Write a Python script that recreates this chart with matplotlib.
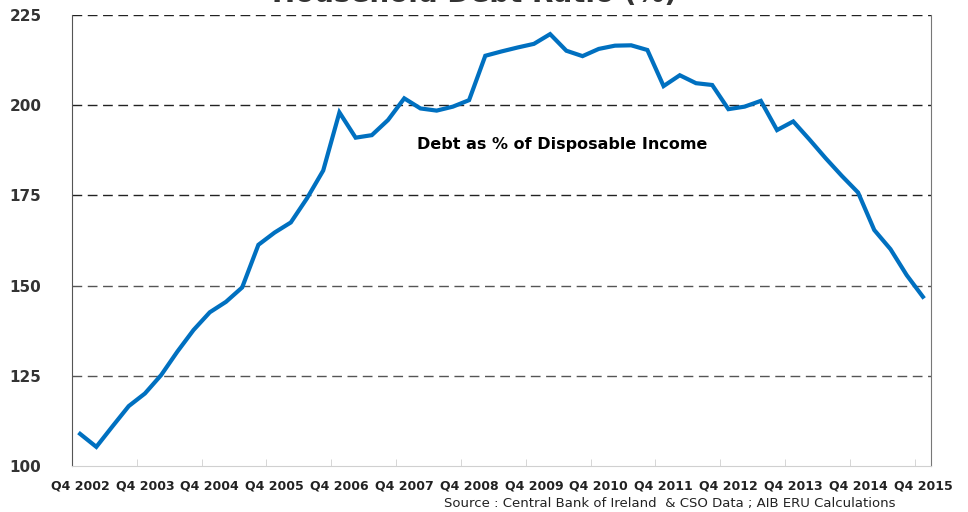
import matplotlib.pyplot as plt
import numpy as np

plt.rcParams["font.family"] = "DejaVu Sans"

# quarterly data, Q4 2002 .. Q4 2015
debt_ratio = [108.9, 105.3, 111.0, 116.6, 120.1, 125.2, 131.7, 137.7, 142.6, 145.5,
              149.5, 161.3, 164.7, 167.5, 174.2, 181.9, 198.0, 191.0, 191.7, 195.9,
              201.9, 199.1, 198.5, 199.6, 201.4, 213.7, 214.9, 216.0, 217.0, 219.7,
              215.1, 213.6, 215.6, 216.5, 216.6, 215.3, 205.3, 208.3, 206.1, 205.6,
              198.9, 199.6, 201.2, 193.1, 195.5, 190.5, 185.3, 180.4, 175.8, 165.4,
              160.1, 152.9, 146.9]
year_labels = ["Q4 %d" % y for y in range(2002, 2016)]
y_ticks = [100, 125, 150, 175, 200, 225]

fig = plt.figure(figsize=(9.68, 5.12), dpi=100)
ax = fig.add_axes([72 / 968, 46 / 512, 859 / 968, 451 / 512])

x = np.arange(len(debt_ratio))
ax.plot(x, debt_ratio, color="#0070C0", lw=3, solid_joinstyle="miter", zorder=3)

ax.set_xlim(-0.5, len(debt_ratio) - 0.5)
ax.set_ylim(100, 225)

# gridlines
for v in y_ticks[1:]:
    c = "#555555" if v < 175 else "#222222"
    ax.axhline(v, color=c, lw=1, ls=(0, (7, 4)), zorder=1)

ax.set_yticks(y_ticks)
ax.set_yticklabels([str(v) for v in y_ticks], fontsize=11, fontweight="bold", color="#333333")
ax.tick_params(axis="y", length=0, pad=22)

ax.set_xticks(np.arange(0, len(debt_ratio), 4))
ax.set_xticklabels(year_labels, fontsize=9, fontweight="bold", color="#222222")
ax.set_xticks(np.arange(-0.5, len(debt_ratio), 4), minor=True)
ax.tick_params(axis="x", which="major", length=0, pad=10)
ax.tick_params(axis="x", which="minor", length=5, color="#d0d0d0", direction="in")

ax.spines["top"].set_visible(False)
ax.spines["left"].set_color("#555555")
ax.spines["right"].set_color("#777777")
ax.spines["bottom"].set_color("#d0d0d0")

ax.text(29.75, 189, "Debt as % of Disposable Income", ha="center", va="center",
        fontsize=11.5, fontweight="bold", color="black")

fig.text(0.49, 1 - 2 / 512, "Household Debt Ratio (%)", ha="center", va="baseline",
         fontsize=20, fontweight="bold", color="#333333")
fig.text(895 / 968, 1 - 504 / 512, "Source : Central Bank of Ireland  & CSO Data ; AIB ERU Calculations",
         ha="right", va="center", fontsize=9.5, color="#222222")

fig.savefig("out.png", dpi=100)
